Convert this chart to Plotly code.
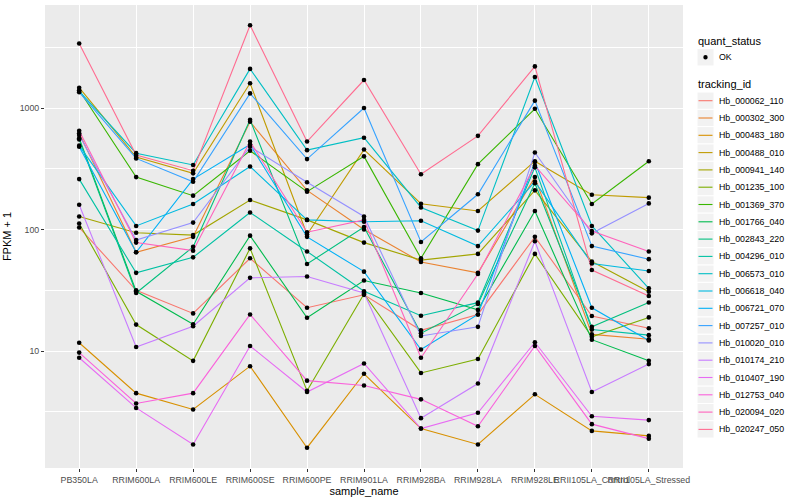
import plotly.graph_objects as go

categories = ["PB350LA", "RRIM600LA", "RRIM600LE", "RRIM600SE", "RRIM600PE",
              "RRIM901LA", "RRIM928BA", "RRIM928LA", "RRIM928LE",
              "RRII105LA_Control", "RRII105LA_Stressed"]

tracking_ids = ["Hb_000062_110", "Hb_000302_300", "Hb_000483_180", "Hb_000488_010",
                "Hb_000941_140", "Hb_001235_100", "Hb_001369_370", "Hb_001766_040",
                "Hb_002843_220", "Hb_004296_010", "Hb_006573_010", "Hb_006618_040",
                "Hb_006721_070", "Hb_007257_010", "Hb_010020_010", "Hb_010174_210",
                "Hb_010407_190", "Hb_012753_040", "Hb_020094_020", "Hb_020247_050"]

colors = ["#F8766D", "#EA8331", "#D89000", "#C09B00", "#A3A500", "#7CAE00",
          "#39B600", "#00BB4E", "#00BF7D", "#00C1A3", "#00BFC4", "#00BAE0",
          "#00B0F6", "#35A2FF", "#9590FF", "#C77CFF", "#E76BF3", "#FA62DB",
          "#FF62BC", "#FF6C91"]

Hb_000062_110 = [104, 31.6, 20.4, 58, 22.7, 29, 14.8, 20, 87, 19.4, 15.4]
Hb_000302_300 = [620, 65, 87, 770, 210, 100, 54, 44, 270, 13.7, 12.5]
Hb_000483_180 = [11.7, 4.5, 3.3, 7.5, 1.6, 6.5, 2.3, 1.7, 4.4, 2.2, 2.0]
Hb_000488_010 = [1470, 395, 290, 1600, 91, 455, 163, 142, 365, 193, 183]
Hb_000941_140 = [128, 94, 90, 175, 120, 78, 56, 63, 210, 54.5, 30.7]
Hb_001235_100 = [112, 16.5, 8.3, 70, 4.7, 29.5, 6.6, 8.6, 63, 13.1, 18.9]
Hb_001369_370 = [1400, 270, 190, 445, 205, 400, 58, 345, 985, 162, 365]
Hb_001766_040 = [565, 31, 16.6, 89, 18.8, 38, 30, 21.8, 142, 12.4, 8.3]
Hb_002843_220 = [550, 30, 72, 800, 52, 105, 14, 24.4, 240, 15.8, 25.1]
Hb_004296_010 = [260, 44, 59, 138, 66, 31, 19.5, 25, 325, 15, 13.5]
Hb_006573_010 = [1380, 425, 340, 2100, 450, 570, 152, 98, 1800, 107, 32.8]
Hb_006618_040 = [490, 107, 162, 330, 120, 116, 118, 73, 248, 52.5, 45.5]
Hb_006721_070 = [480, 65, 260, 500, 87, 45, 10.3, 20, 360, 22.7, 12.2]
Hb_007257_010 = [1350, 385, 247, 1320, 380, 1000, 79, 195, 1150, 73, 57]
Hb_010020_010 = [600, 82, 114, 480, 245, 128, 13.3, 15.8, 430, 93, 164]
Hb_010174_210 = [160, 10.8, 16, 40, 41, 30, 2.8, 5.4, 80, 4.6, 7.8]
Hb_010407_190 = [8.8, 3.4, 1.7, 11, 4.6, 7.9, 2.3, 3.1, 11.8, 2.9, 2.7]
Hb_012753_040 = [9.7, 3.7, 4.5, 20, 5.7, 5.2, 4.0, 2.4, 11, 2.5, 1.9]
Hb_020094_020 = [650, 78, 67, 530, 95, 120, 8.8, 43, 335, 97, 66]
Hb_020247_050 = [3400, 410, 305, 4800, 530, 1700, 285, 590, 2200, 46.4, 28.4]

series = [Hb_000062_110, Hb_000302_300, Hb_000483_180, Hb_000488_010, Hb_000941_140,
          Hb_001235_100, Hb_001369_370, Hb_001766_040, Hb_002843_220, Hb_004296_010,
          Hb_006573_010, Hb_006618_040, Hb_006721_070, Hb_007257_010, Hb_010020_010,
          Hb_010174_210, Hb_010407_190, Hb_012753_040, Hb_020094_020, Hb_020247_050]

y_tick_vals = [10, 100, 1000]
y_minor_vals = [3.1623, 31.623, 316.23, 3162.3]
status_levels = ["OK"]

FONT = "Liberation Sans, Arial, sans-serif"

W, H = 800, 500
ML, MR, MT, MB = 45, 117, 5, 32
PW, PH = W - ML - MR, H - MT - MB


def px(xp):
    return (xp - ML) / PW


def py(yp):
    return (H - MB - yp) / PH


fig = go.Figure()
for name, vals, col in zip(tracking_ids, series, colors):
    fig.add_trace(go.Scatter(x=categories, y=vals, mode="lines", name=name,
                             line=dict(color=col, width=1.1), showlegend=False,
                             hoverinfo="skip"))

all_x = [c for _ in series for c in categories]
all_y = [v for vals in series for v in vals]
fig.add_trace(go.Scatter(x=all_x, y=all_y, mode="markers", name=status_levels[0],
                         marker=dict(color="black", size=4.6), showlegend=False))

# manual ggplot-style legend
shapes = []
annotations = []
KX0, KX1 = 697, 714
KEY = 17.3
TX = 716.5


def key_box(cy):
    shapes.append(dict(type="rect", xref="paper", yref="paper",
                       x0=px(KX0), x1=px(KX1), y0=py(cy + KEY / 2), y1=py(cy - KEY / 2),
                       fillcolor="#F2F2F2", line=dict(color="white", width=1), layer="above"))


annotations.append(dict(text="quant_status", xref="paper", yref="paper", x=px(696), y=py(40.7),
                        xanchor="left", yanchor="middle", showarrow=False,
                        font=dict(size=11, color="black", family=FONT)))
cy = 57.3
key_box(cy)
r = 2.2
shapes.append(dict(type="circle", xref="paper", yref="paper",
                   x0=px(705.5 - r), x1=px(705.5 + r), y0=py(cy + r), y1=py(cy - r),
                   fillcolor="black", line=dict(color="black", width=0), layer="above"))
annotations.append(dict(text=status_levels[0], xref="paper", yref="paper", x=px(TX), y=py(cy),
                        xanchor="left", yanchor="middle", showarrow=False,
                        font=dict(size=8.8, color="black", family=FONT)))

annotations.append(dict(text="tracking_id", xref="paper", yref="paper", x=px(696), y=py(84.3),
                        xanchor="left", yanchor="middle", showarrow=False,
                        font=dict(size=11, color="black", family=FONT)))
for i, (name, col) in enumerate(zip(tracking_ids, colors)):
    cy = 100.7 + KEY * i
    key_box(cy)
    shapes.append(dict(type="line", xref="paper", yref="paper",
                       x0=px(698.5), x1=px(712.5), y0=py(cy), y1=py(cy),
                       line=dict(color=col, width=1.1), layer="above"))
    annotations.append(dict(text=name, xref="paper", yref="paper", x=px(TX), y=py(cy),
                            xanchor="left", yanchor="middle", showarrow=False,
                            font=dict(size=8.8, color="black", family=FONT)))

fig.update_layout(
    width=W, height=H,
    margin=dict(l=ML, r=MR, t=MT, b=MB, autoexpand=False),
    paper_bgcolor="white", plot_bgcolor="#EBEBEB",
    font=dict(family=FONT, size=9, color="#4D4D4D"),
    showlegend=False,
    shapes=shapes, annotations=annotations,
    xaxis=dict(type="category", categoryorder="array", categoryarray=categories,
               range=[-0.6, 10.6], showgrid=True, gridcolor="white", gridwidth=1.1,
               ticks="outside", ticklen=3, tickcolor="#333333", tickangle=0,
               tickfont=dict(size=8.8, color="#4D4D4D"), zeroline=False, showline=False,
               title=dict(text="sample_name", font=dict(size=11, color="black"), standoff=3)),
    yaxis=dict(type="log", range=[0.037, 3.848], tickvals=y_tick_vals,
               ticktext=[str(v) for v in y_tick_vals], showgrid=True, gridcolor="white",
               gridwidth=1.1, ticks="outside", ticklen=3, tickcolor="#333333",
               tickfont=dict(size=8.8, color="#4D4D4D"), zeroline=False, showline=False,
               minor=dict(tickvals=y_minor_vals, showgrid=True, gridcolor="white",
                          gridwidth=0.55, ticks=""),
               title=dict(text="FPKM + 1", font=dict(size=11, color="black"), standoff=5)),
)

fig.write_html("out.html", config={"displayModeBar": False},
               post_script="document.body.style.margin='0';document.body.style.padding='0';")
